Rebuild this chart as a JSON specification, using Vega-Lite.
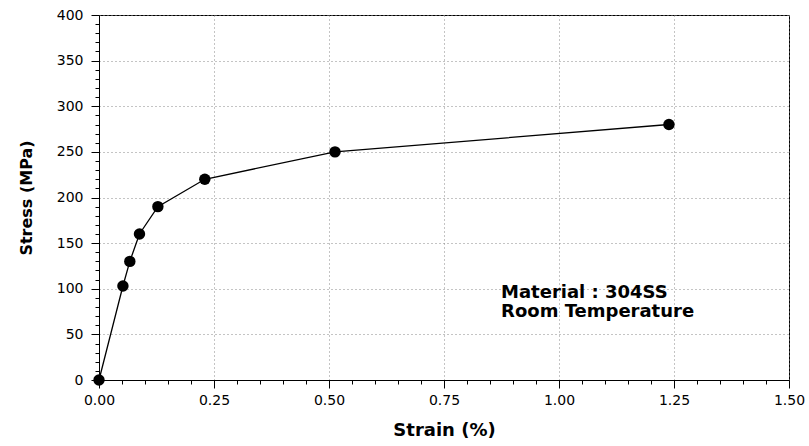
{
  "$schema": "https://vega.github.io/schema/vega-lite/v6.json",
  "width": 690,
  "height": 365,
  "autosize": {"type": "none"},
  "padding": {"left": 99, "top": 15, "right": 20, "bottom": 66},
  "background": "white",
  "config": {
    "view": {"stroke": "black", "strokeWidth": 1},
    "axis": {
      "domainColor": "black",
      "domainWidth": 1,
      "tickColor": "black",
      "tickWidth": 1,
      "labelColor": "black",
      "titleColor": "black",
      "labelFont": "DejaVu Sans",
      "labelFontSize": 14,
      "labelFlush": false,
      "titleFont": "DejaVu Sans",
      "titleFontWeight": "bold"
    }
  },
  "data": {
    "values": [
      {"strain": 0.0, "stress": 0},
      {"strain": 0.052, "stress": 103},
      {"strain": 0.067, "stress": 130},
      {"strain": 0.088, "stress": 160},
      {"strain": 0.128, "stress": 190},
      {"strain": 0.23, "stress": 220},
      {"strain": 0.513, "stress": 250},
      {"strain": 1.239, "stress": 280}
    ]
  },
  "layer": [
    {
      "mark": {"type": "line", "color": "black", "strokeWidth": 1.3},
      "encoding": {
        "x": {
          "field": "strain", "type": "quantitative",
          "scale": {"domain": [0, 1.5], "nice": false, "zero": false},
          "axis": {
            "orient": "bottom",
            "values": [0, 0.25, 0.5, 0.75, 1, 1.25, 1.5],
            "format": ".2f",
            "tickSize": 8,
            "labelPadding": 5,
            "labelFlush": false,
            "grid": true,
            "gridColor": "#888888",
            "gridDash": [1, 3],
            "gridWidth": 1,
            "title": "Strain (%)",
            "titleFontSize": 18,
            "titlePadding": 14
          }
        },
        "y": {
          "field": "stress", "type": "quantitative",
          "scale": {"domain": [0, 400], "nice": false, "zero": false},
          "axis": {
            "orient": "left",
            "values": [0, 50, 100, 150, 200, 250, 300, 350, 400],
            "tickSize": 8,
            "labelPadding": 8,
            "labelFlush": false,
            "grid": true,
            "gridColor": "#888888",
            "gridDash": [1, 3],
            "gridWidth": 1,
            "title": "Stress (MPa)",
            "titleFontSize": 16,
            "titlePadding": 22
          }
        }
      }
    },
    {
      "mark": {"type": "point", "filled": true, "color": "black", "size": 130, "opacity": 1},
      "encoding": {
        "x": {
          "field": "strain", "type": "quantitative",
          "scale": {"domain": [0, 1.5], "nice": false, "zero": false},
          "axis": {
            "orient": "bottom",
            "values": [0.05, 0.1, 0.15, 0.2, 0.3, 0.35, 0.4, 0.45, 0.55, 0.6, 0.65, 0.7, 0.8, 0.85, 0.9, 0.95, 1.05, 1.1, 1.15, 1.2, 1.3, 1.35, 1.4, 1.45],
            "tickSize": 4,
            "tickColor": "black",
            "labels": false,
            "domain": false,
            "grid": false,
            "title": null
          }
        },
        "y": {
          "field": "stress", "type": "quantitative",
          "scale": {"domain": [0, 400], "nice": false, "zero": false},
          "axis": {
            "orient": "left",
            "values": [10, 20, 30, 40, 60, 70, 80, 90, 110, 120, 130, 140, 160, 170, 180, 190, 210, 220, 230, 240, 260, 270, 280, 290, 310, 320, 330, 340, 360, 370, 380, 390],
            "tickSize": 4,
            "tickColor": "black",
            "labels": false,
            "domain": false,
            "grid": false,
            "title": null
          }
        }
      }
    },
    {
      "data": {"values": [{"strain": 0.874, "stress": 90, "label": "Material : 304SS\nRoom Temperature"}]},
      "mark": {"type": "text", "align": "left", "baseline": "alphabetic", "font": "DejaVu Sans", "fontWeight": "bold", "fontSize": 18, "lineBreak": "\n", "lineHeight": 19, "color": "black"},
      "encoding": {
        "x": {"field": "strain", "type": "quantitative", "scale": {"domain": [0, 1.5], "nice": false, "zero": false}, "axis": null},
        "y": {"field": "stress", "type": "quantitative", "scale": {"domain": [0, 400], "nice": false, "zero": false}, "axis": null},
        "text": {"field": "label"}
      }
    }
  ],
  "resolve": {"axis": {"x": "independent", "y": "independent"}}
}
